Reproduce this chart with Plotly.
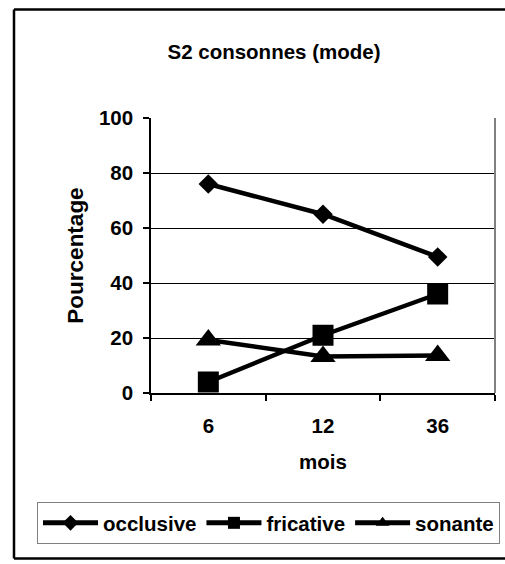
import plotly.graph_objects as go

categories = ["6", "12", "36"]
occlusive = [76, 65, 49.5]
fricative = [4, 21, 36]
sonante = [19.3, 13.3, 13.6]
y_ticks = [0, 20, 40, 60, 80, 100]

FONT = "Liberation Sans, Arial, sans-serif"
L, R, T, B = 151, 495, 118, 393
W, H = 505, 564
PW, PH = R - L, B - T

def px_x(x):
    return (x - L) / PW

def px_y(y):
    return (B - y) / PH

def bold(size=20.5):
    return dict(family=FONT, size=size, color="black", weight="bold")

fig = go.Figure()
series = [
    ("occlusive", occlusive, "diamond", 15),
    ("fricative", fricative, "square", 21),
    ("sonante", sonante, "triangle-up", 22),
]
for name, vals, sym, size in series:
    fig.add_trace(go.Scatter(
        x=categories, y=vals, name=name, mode="lines+markers",
        line=dict(color="black", width=4.5),
        marker=dict(symbol=sym, size=size, color="black", line=dict(width=0)),
        cliponaxis=False,
    ))

# outer chart frame (its right side falls outside the picture)
fx0, fx1 = px_x(14), px_x(900)
fy0, fy1 = px_y(558.5), px_y(9.5)
frame = dict(color="black", width=2.5)
shapes = [
    dict(type="line", xref="paper", yref="paper", x0=fx0, x1=fx1, y0=fy1, y1=fy1, line=frame),
    dict(type="line", xref="paper", yref="paper", x0=fx0, x1=fx1, y0=fy0, y1=fy0, line=frame),
    dict(type="line", xref="paper", yref="paper", x0=fx0, x1=fx0, y0=fy0, y1=fy1, line=frame),
    dict(type="line", xref="paper", yref="paper", x0=1, x1=1, y0=0, y1=1,
         line=dict(color="#808080", width=2)),
]

fig.update_layout(
    width=W, height=H,
    margin=dict(l=L, r=W - R, t=T, b=H - B, autoexpand=False),
    paper_bgcolor="white", plot_bgcolor="white",
    font=bold(),
    title=dict(text="S2 consonnes (mode)", x=px_x(274), xref="paper",
               xanchor="center", y=1 - 52 / H, yref="container", yanchor="middle",
               font=bold()),
    showlegend=True,
    legend=dict(orientation="h", x=px_x(37), xanchor="left", y=px_y(502), yanchor="top",
                bordercolor="#808080", borderwidth=1, bgcolor="white",
                font=bold(), itemwidth=55, itemsizing="constant",
                tracegroupgap=0),
    shapes=shapes,
)

fig.update_xaxes(
    type="category", range=[-0.5, 2.5],
    showline=True, linecolor="black", linewidth=1.5,
    ticks="outside", tickson="boundaries", ticklen=6, tickcolor="black", tickwidth=1.5,
    tickfont=bold(), ticklabelstandoff=14,
    title=dict(text="mois", standoff=18, font=bold()),
    showgrid=False, zeroline=False,
)
fig.update_yaxes(
    range=[0, 100], tickvals=y_ticks,
    showline=True, linecolor="black", linewidth=1.5,
    ticks="outside", ticklen=6, tickcolor="black", tickwidth=1.5,
    tickfont=bold(), ticklabelstandoff=6,
    showgrid=True, gridcolor="black", gridwidth=1, zeroline=False,
    title=dict(text="Pourcentage", standoff=9, font=bold(22.5)),
)

fig.write_html("out.html")
